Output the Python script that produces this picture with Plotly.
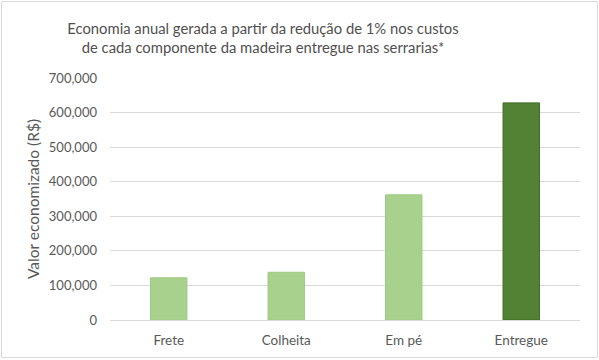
import plotly.graph_objects as go

categories = ["Frete", "Colheita", "Em pé", "Entregue"]
values = [122000, 138000, 362000, 628000]
bar_colors = ["#A9D18E", "#A9D18E", "#A9D18E", "#548235"]
line_colors = ["#9CCB7E", "#9CCB7E", "#9CCB7E", "#3E6B22"]
tick_vals = [0, 100000, 200000, 300000, 400000, 500000, 600000, 700000]
tick_text = ["0", "100,000", "200,000", "300,000", "400,000", "500,000", "600,000", "700,000"]

L, R, T, B = 110, 19, 78, 40
W, H = 599, 360
pw, ph = W - L - R, H - T - B

def px(x):
    return (x - L) / pw

def py(y):
    return (H - B - y) / ph

fig = go.Figure(go.Bar(
    x=categories, y=values,
    marker=dict(color=bar_colors, line=dict(color=line_colors, width=1)),
    width=0.31,
))

font_family = "Lato, Open Sans, sans-serif"
fig.update_layout(
    width=W, height=H,
    margin=dict(l=L, r=R, t=T, b=B, autoexpand=False),
    paper_bgcolor="white", plot_bgcolor="white",
    showlegend=False,
    font=dict(family=font_family, color="#595959", size=13),
    title=dict(
        text="Economia anual gerada a partir da redução de 1% nos custos<br>de cada componente da madeira entregue nas serrarias*",
        x=263 / W, xanchor="center", y=1 - 34 / H, yanchor="middle",
        font=dict(size=14.8, color="#505050", family=font_family),
    ),
    xaxis=dict(
        showline=True, linecolor="#D9D9D9", linewidth=1,
        ticks="", tickfont=dict(size=13.5, color="#595959"),
        ticklabelstandoff=8,
    ),
    yaxis=dict(
        range=[0, 700000], tickvals=tick_vals, ticktext=tick_text,
        showgrid=True, gridcolor="#D9D9D9", gridwidth=1,
        zeroline=False, showline=False, ticks="",
        tickfont=dict(size=13, color="#595959"),
        ticklabelstandoff=12,
        title=dict(text="Valor economizado (R$)", font=dict(size=15.5, color="#595959"), standoff=5),
    ),
    shapes=[dict(
        type="rect", xref="paper", yref="paper",
        x0=px(1.5), x1=px(597.5), y0=py(357.5), y1=py(1.5),
        line=dict(color="#D9D9D9", width=1), fillcolor="rgba(0,0,0,0)", layer="above",
    )],
)

fig.write_html("out.html", config={"displayModeBar": False},
               post_script="document.body.style.margin='0';")
